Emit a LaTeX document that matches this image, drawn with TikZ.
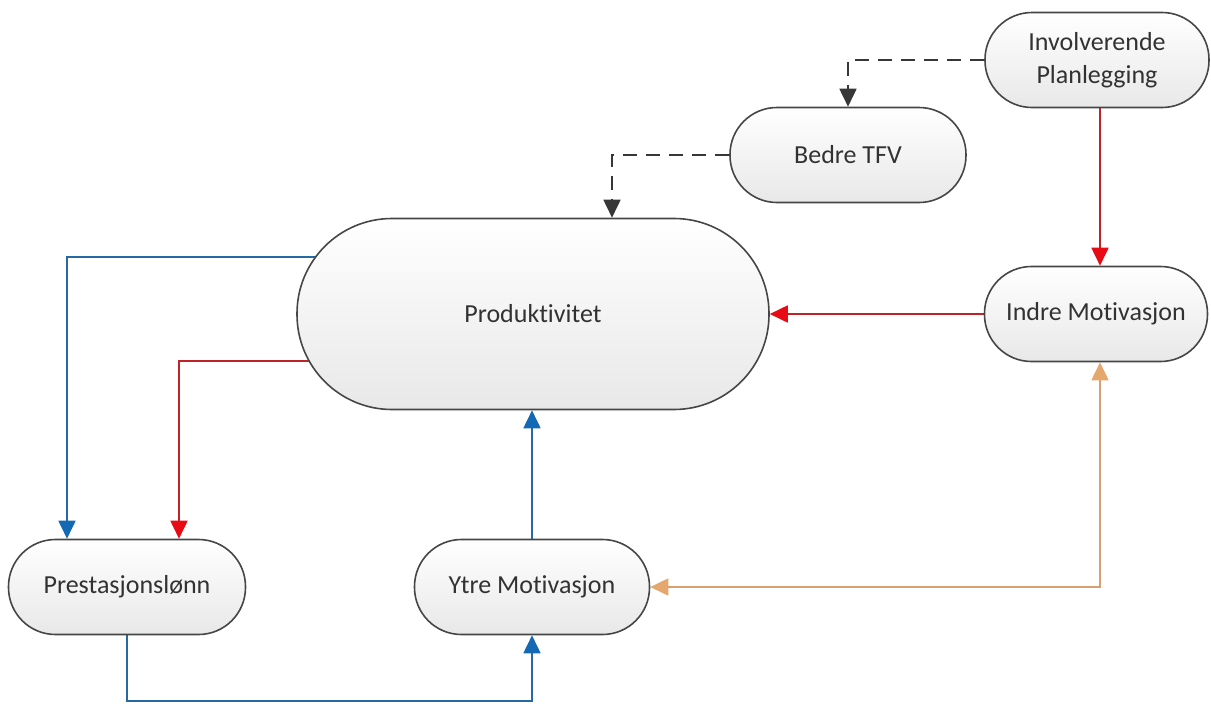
\documentclass[tikz,border=0pt]{standalone}
\usepackage{fontspec}
\setmainfont{Carlito}[Ligatures={NoCommon,NoRequired,NoContextual},RawFeature={-liga}]
\usetikzlibrary{arrows.meta,calc,backgrounds}
\definecolor{lineblue}{RGB}{40,105,165}
\definecolor{headblue}{RGB}{20,105,180}
\definecolor{linered}{RGB}{190,35,40}
\definecolor{headred}{RGB}{232,10,20}
\definecolor{linetan}{RGB}{215,160,110}
\definecolor{headtan}{RGB}{228,168,110}
\definecolor{linedark}{RGB}{55,55,55}
\definecolor{txt}{RGB}{50,50,50}
\definecolor{boxborder}{RGB}{70,70,70}
\tikzset{
  pill/.style={draw=boxborder, line width=1.6pt, top color=white, bottom color=black!9,
    rectangle, rounded corners=#1, align=center, text=txt,
    font=\fontsize{26}{31}\selectfont, inner sep=0pt},
  conn/.style={line width=1.8pt, color=line#1,
    arrows={-Triangle[length=18pt,width=17pt,fill=head#1,color=head#1]}},
  dashconn/.style={line width=1.8pt, color=linedark, dash pattern=on 14pt off 9pt,
    arrows={-Triangle[length=18pt,width=17pt]}},
  tanhead/.style={arrows={Triangle[length=18pt,width=17pt,fill=headtan,color=headtan]-Triangle[length=18pt,width=17pt,fill=headtan,color=headtan]}},
}
\begin{document}
\begin{tikzpicture}[x=1pt,y=-1pt]
\useasboundingbox (0,0) rectangle (1211,704);
% nodes
\node[pill=47pt, minimum width=224pt, minimum height=95pt] (IP) at (1097,60) {Involverende\\[2pt]Planlegging};
\node[pill=47pt, minimum width=236pt, minimum height=95pt] (B) at (848,155) {Bedre TFV};
\node[pill=95pt, minimum width=472pt, minimum height=191pt] (P) at (533,314) {Produktivitet};
\node[pill=47pt, minimum width=223pt, minimum height=95pt] (IM) at (1096,314) {Indre Motivasjon};
\node[pill=47pt, minimum width=237pt, minimum height=95pt] (Pr) at (127,587) {Prestasjonslønn};
\node[pill=47pt, minimum width=235pt, minimum height=95pt] (Y) at (532,587) {Ytre Motivasjon};
% connectors
\begin{pgfonlayer}{background}
\fill[white] (0,0) rectangle (1211,704);
\draw[dashconn] (IP.west) -| (B.north);
\draw[dashconn] (B.west) -| ($(P.north)+(79,0)$);
\draw[conn=red] ($(IP.south)+(3,0)$) -- ($(IM.north)+(4,0)$);
\draw[conn=red] (IM.west) -- (P.east);
\draw[conn=blue] ($(P.center)+(-200,-57)$) -| ($(Pr.north)+(-60,0)$);
\draw[conn=red] ($(P.center)+(-200,47)$) -| ($(Pr.north)+(52,0)$);
\draw[conn=blue] (Y.north) -- (Y.north |- P.south);
\draw[conn=blue] (Pr.south) -- ++(0,66) -| (Y.south);
\draw[line width=1.8pt, color=linetan, tanhead] ($(IM.south)+(4,0)$) |- (Y.east);
\end{pgfonlayer}
\end{tikzpicture}
\end{document}
